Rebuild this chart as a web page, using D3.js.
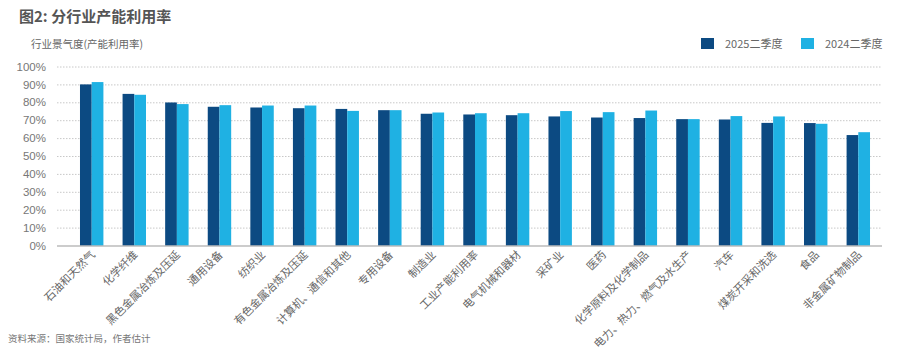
<!DOCTYPE html>
<html>
<head>
<meta charset="utf-8">
<script src="https://cdn.jsdelivr.net/npm/d3@7"></script>
<style>
  body { margin: 0; background: #fff; }
  text { font-family: "Noto Sans CJK SC", "Noto Sans", sans-serif; }
</style>
</head>
<body>
<div id="chart"></div>
<script>
///////////////////// Data ////////////////////////
var industries = ["石油和天然气", "化学纤维", "黑色金属冶炼及压延", "通用设备", "纺织业",
                  "有色金属冶炼及压延", "计算机、通信和其他", "专用设备", "制造业", "工业产能利用率",
                  "电气机械和器材", "采矿业", "医药", "化学原料及化学制品", "电力、热力、燃气及水生产",
                  "汽车", "煤炭开采和洗选", "食品", "非金属矿物制品"];
var q2_2025 = [90.0, 84.7, 79.9, 77.5, 77.1, 76.7, 76.3, 75.6, 73.6, 73.2,
               72.8, 72.1, 71.5, 71.2, 70.6, 70.4, 68.5, 68.4, 61.7];
var q2_2024 = [91.3, 84.2, 79.0, 78.4, 78.2, 78.2, 75.2, 75.6, 74.3, 73.9,
               73.9, 75.1, 74.5, 75.4, 70.6, 72.3, 72.1, 68.0, 63.3];
var seriesNames = ["2025二季度", "2024二季度"];
var yTicks = [0, 10, 20, 30, 40, 50, 60, 70, 80, 90, 100];
///////////////////////////////////////////////////

var width = 900, height = 357;
var colors = ["#0c4a82", "#1fb1e3"];

var svg = d3.select("#chart").append("svg")
    .attr("width", width)
    .attr("height", height);

// scales
var x = d3.scaleBand()
    .domain(industries)
    .range([70.4, 879.6])
    .paddingInner(0.45)
    .paddingOuter(0.225);
var x1 = d3.scaleBand()
    .domain(seriesNames)
    .range([0, x.bandwidth()]);
var y = d3.scaleLinear()
    .domain([0, 100])
    .range([245.5, 66.5]);

// title
svg.append("text")
    .attr("x", 19).attr("y", 22)
    .attr("font-size", 15).attr("font-weight", "bold")
    .attr("fill", "#555")
    .text("图2: 分行业产能利用率");
svg.append("text")
    .attr("x", 31).attr("y", 48)
    .attr("font-size", 10.5).attr("fill", "#666")
    .text("行业景气度(产能利用率)");

// gridlines
svg.append("g").selectAll("line")
    .data(yTicks.slice(1))
    .enter().append("line")
    .attr("x1", 57).attr("x2", 882)
    .attr("y1", function (d) { return y(d) + 0.5; })
    .attr("y2", function (d) { return y(d) + 0.5; })
    .attr("stroke", "#c8c8c8")
    .attr("stroke-dasharray", "1.5,1.5");

// y axis labels
var yAxis = d3.axisLeft(y)
    .tickValues(yTicks)
    .tickFormat(function (d) { return d + "%"; })
    .tickSize(0)
    .tickPadding(0);
var gy = svg.append("g")
    .attr("transform", "translate(46,0)")
    .call(yAxis);
gy.select(".domain").remove();
gy.selectAll("text")
    .attr("font-size", 11.5)
    .attr("fill", "#777")
    .style("font-family", "Liberation Sans, Arial, sans-serif");

// bars
var groups = svg.append("g").selectAll("g")
    .data(industries)
    .enter().append("g")
    .attr("transform", function (d) { return "translate(" + x(d) + ",0)"; });

groups.selectAll("rect")
    .data(function (d, i) {
        return [{ s: seriesNames[0], v: q2_2025[i] }, { s: seriesNames[1], v: q2_2024[i] }];
    })
    .enter().append("rect")
    .attr("x", function (d) { return x1(d.s); })
    .attr("width", x1.bandwidth())
    .attr("y", function (d) { return y(d.v); })
    .attr("height", function (d) { return y(0) - y(d.v); })
    .attr("fill", function (d, i) { return colors[i]; });

// baseline
svg.append("line")
    .attr("x1", 57).attr("x2", 882)
    .attr("y1", y(0) + 0.5).attr("y2", y(0) + 0.5)
    .attr("stroke", "#999");

// x labels
var xAxis = d3.axisBottom(x).tickSize(0).tickPadding(0);
var gx = svg.append("g")
    .attr("transform", "translate(0," + (y(0)) + ")")
    .call(xAxis);
gx.select(".domain").remove();
gx.selectAll("text")
    .attr("font-size", 11)
    .attr("fill", "#666")
    .attr("text-anchor", "end")
    .attr("dy", 0)
    .attr("transform", "translate(4,10) rotate(-45)");

// legend
var legend = svg.append("g").selectAll("g")
    .data(seriesNames)
    .enter().append("g")
    .attr("transform", function (d, i) { return "translate(" + (701 + i * 100) + ",38)"; });
legend.append("rect")
    .attr("width", 13).attr("height", 11)
    .attr("fill", function (d, i) { return colors[i]; });
legend.append("text")
    .attr("x", 24).attr("y", 10)
    .attr("font-size", 11).attr("fill", "#666")
    .text(function (d) { return d; });

// source
svg.append("text")
    .attr("x", 8).attr("y", 342)
    .attr("font-size", 9.5).attr("fill", "#777")
    .text("资料来源：国家统计局，作者估计");
</script>
</body>
</html>
